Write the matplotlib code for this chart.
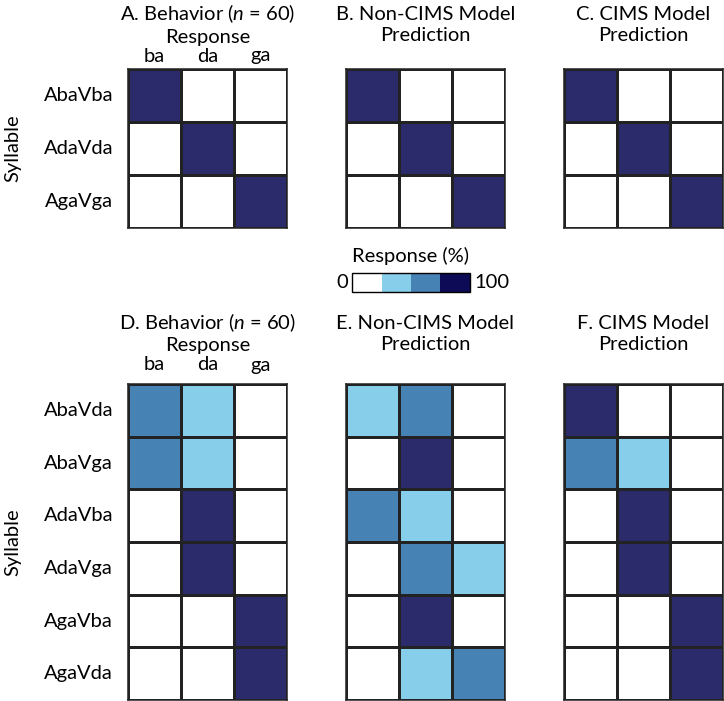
import numpy as np
import matplotlib

matplotlib.use("Agg")
import matplotlib.pyplot as plt
from matplotlib.colors import ListedColormap, BoundaryNorm
from matplotlib.cm import ScalarMappable

plt.rcParams["font.family"] = ["Lato", "DejaVu Sans"]

# ---- data (response %) ----
responses = ["ba", "da", "ga"]
syll_top = ["AbaVba", "AdaVda", "AgaVga"]
syll_bot = ["AbaVda", "AbaVga", "AdaVba", "AdaVga", "AgaVba", "AgaVda"]

behav_top = [[100, 0, 0], [0, 100, 0], [0, 0, 100]]
noncims_top = [[100, 0, 0], [0, 100, 0], [0, 0, 100]]
cims_top = [[100, 0, 0], [0, 100, 0], [0, 0, 100]]

behav_bot = [[60, 40, 0], [60, 40, 0], [0, 100, 0], [0, 100, 0], [0, 0, 100], [0, 0, 100]]
noncims_bot = [[40, 60, 0], [0, 100, 0], [60, 40, 0], [0, 60, 40], [0, 100, 0], [0, 40, 60]]
cims_bot = [[100, 0, 0], [60, 40, 0], [0, 100, 0], [0, 100, 0], [0, 0, 100], [0, 0, 100]]

titles_top = ["A. Behavior ($\\it{n}$ = 60)", "B. Non-CIMS Model\nPrediction", "C. CIMS Model\nPrediction"]
titles_bot = ["D. Behavior ($\\it{n}$ = 60)", "E. Non-CIMS Model\nPrediction", "F. CIMS Model\nPrediction"]

# ---- styling ----
W, H = 724, 701
cell_colors = ["#ffffff", "#87ceeb", "#4682b4", "#2b2a6b"]
bar_colors = ["#ffffff", "#87ceeb", "#4682b4", "#0d0b55"]
bounds = [0, 25, 50, 75, 100.01]
cmap = ListedColormap(cell_colors)
cmap_bar = ListedColormap(bar_colors)
norm = BoundaryNorm(bounds, cmap.N)
FS = 14.5
plt.rcParams["mathtext.fontset"] = "custom"
plt.rcParams["mathtext.it"] = "Lato:italic"
plt.rcParams["mathtext.rm"] = "Lato"

fig = plt.figure(figsize=(W / 100, H / 100), dpi=100)


def px_axes(x0, y0, x1, y1):
    return fig.add_axes([x0 / W, 1 - y1 / H, (x1 - x0) / W, (y1 - y0) / H])


def draw_grid(ax, vals):
    arr = np.array(vals)
    ax.pcolormesh(arr, cmap=cmap, norm=norm, edgecolors="#222222", linewidth=0.8)
    ax.set_xlim(0, arr.shape[1])
    ax.set_ylim(arr.shape[0], 0)
    ax.set_xticks([]); ax.set_yticks([])
    for s in ax.spines.values():
        s.set_linewidth(1.1)
        s.set_color("#222222")


xs = [(128, 287), (346, 505), (564, 723)]
rows = [
    (69, 228, [behav_top, noncims_top, cims_top], syll_top, titles_top, 14),
    (384, 700, [behav_bot, noncims_bot, cims_bot], syll_bot, titles_bot, 323),
]
for y0, y1, mats, sylls, titles, ty in rows:
    for k, ((x0, x1), m, t) in enumerate(zip(xs, mats, titles)):
        ax = px_axes(x0, y0, x1, y1)
        draw_grid(ax, m)
        cx = (x0 + x1) / 2
        if k == 0:
            fig.text(cx / W, 1 - ty / H, t, ha="center", va="center", fontsize=FS)
            fig.text(cx / W, 1 - (ty + 23) / H, "Response", ha="center", va="center", fontsize=FS)
            for j, r in enumerate(responses):
                fig.text((x0 + (j + 0.5) * (x1 - x0) / 3) / W, 1 - (ty + 42) / H, r,
                         ha="center", va="center", fontsize=FS)
            rh = (y1 - y0) / len(sylls)
            for i, s in enumerate(sylls):
                fig.text(113 / W, 1 - (y0 + (i + 0.5) * rh) / H, s,
                         ha="right", va="center", fontsize=FS)
            fig.text(13 / W, 1 - ((y0 + y1) / 2) / H, "Syllable", rotation=90,
                     ha="center", va="center", fontsize=FS)
        else:
            fig.text(cx / W, 1 - (ty + 11) / H, t, ha="center", va="center",
                     fontsize=FS, linespacing=1.32)

# ---- colorbar ----
cax = px_axes(352, 273, 470, 292)
cb = fig.colorbar(ScalarMappable(norm=norm, cmap=cmap_bar), cax=cax, orientation="horizontal")
cb.set_ticks([])
cb.ax.tick_params(which="both", length=0)
cb.ax.minorticks_off()
cb.outline.set_linewidth(1.0)
fig.text(411 / W, 1 - 256 / H, "Response (%)", ha="center", va="center", fontsize=FS)
fig.text(342 / W, 1 - 283 / H, "0", ha="center", va="center", fontsize=FS)
fig.text(492 / W, 1 - 283 / H, "100", ha="center", va="center", fontsize=FS)

fig.savefig("out.png", dpi=100)
